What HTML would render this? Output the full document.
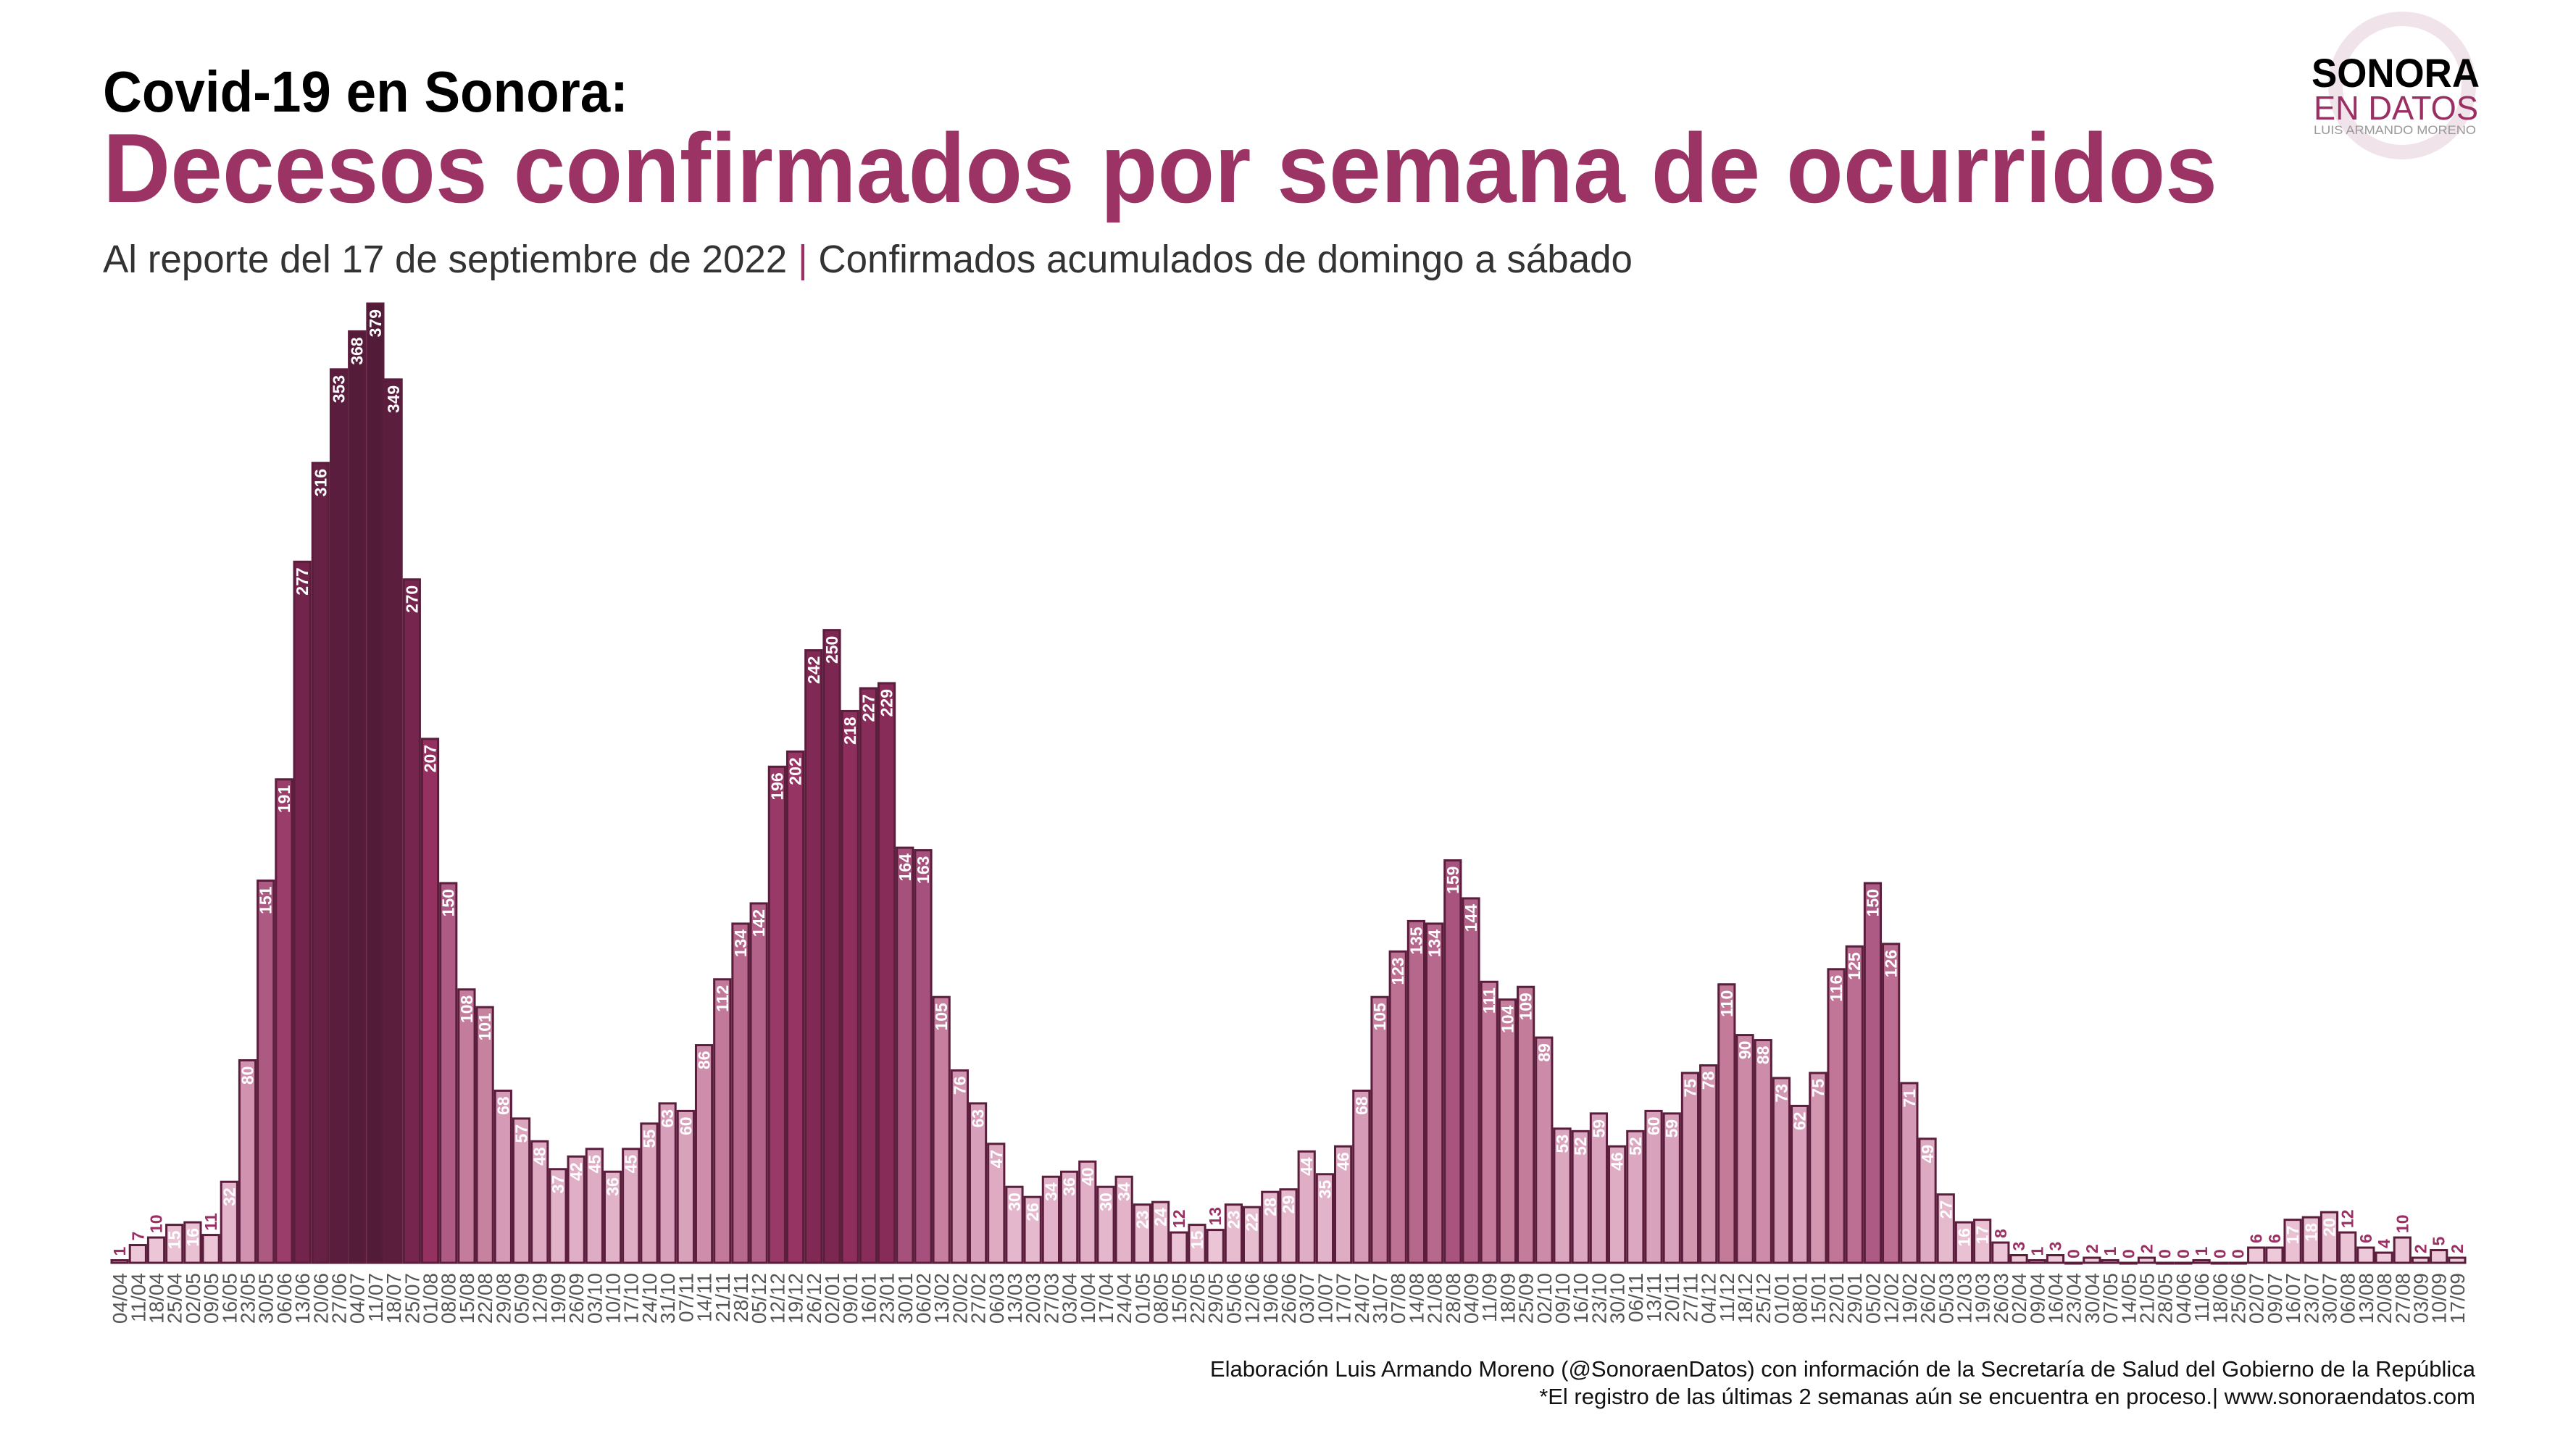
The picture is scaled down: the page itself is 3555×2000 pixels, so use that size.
<!DOCTYPE html>
<html><head><meta charset="utf-8"><style>
html,body{margin:0;padding:0;background:#fff;}
svg{display:block;}
</style></head><body>
<svg id="chart" width="3555" height="2000" viewBox="0 0 3555 2000" xmlns="http://www.w3.org/2000/svg" font-family="'Liberation Sans', sans-serif">
<rect width="3555" height="2000" fill="#fff"/>
<g>
<circle cx="3315" cy="118" r="92" fill="none" stroke="#f1e3ea" stroke-width="20"/>
<text x="3190" y="120" font-size="56" font-weight="bold" fill="#000" textLength="232" lengthAdjust="spacingAndGlyphs">SONORA</text>
<text x="3193" y="165" font-size="46" fill="#9b2f63" textLength="227" lengthAdjust="spacingAndGlyphs">EN DATOS</text>
<text x="3193" y="185" font-size="17" fill="#999" textLength="224" lengthAdjust="spacingAndGlyphs">LUIS ARMANDO MORENO</text>
</g>
<text x="142" y="154" font-size="80" font-weight="bold" fill="#000" textLength="725" lengthAdjust="spacingAndGlyphs">Covid-19  en Sonora:</text>
<text x="142" y="279" font-size="136" font-weight="bold" fill="#9b3365" textLength="2918" lengthAdjust="spacingAndGlyphs">Decesos confirmados por semana de ocurridos</text>
<text x="142" y="376" font-size="54" fill="#333" textLength="2111" lengthAdjust="spacingAndGlyphs">Al reporte del 17 de septiembre de 2022 <tspan fill="#9b2f63">|</tspan> Confirmados acumulados de domingo a sábado</text>
<g id="bars"></g>
<g id="xlabels"></g>
<text x="3416" y="1900" font-size="31" fill="#111" text-anchor="end">Elaboración Luis Armando Moreno (@SonoraenDatos) con información de la Secretaría de Salud del Gobierno de la República</text>
<text x="3416" y="1938" font-size="31" fill="#111" text-anchor="end">*El registro de las últimas 2 semanas aún se encuentra en proceso.| www.sonoraendatos.com</text>
</svg>
<script>
const weeks = ["04/04","11/04","18/04","25/04","02/05","09/05","16/05","23/05","30/05","06/06","13/06","20/06","27/06","04/07","11/07","18/07","25/07","01/08","08/08","15/08","22/08","29/08","05/09","12/09","19/09","26/09","03/10","10/10","17/10","24/10","31/10","07/11","14/11","21/11","28/11","05/12","12/12","19/12","26/12",
"02/01","09/01","16/01","23/01","30/01","06/02","13/02","20/02","27/02","06/03","13/03","20/03","27/03","03/04","10/04","17/04","24/04","01/05","08/05","15/05","22/05","29/05","05/06","12/06","19/06","26/06","03/07","10/07","17/07","24/07","31/07","07/08","14/08","21/08","28/08","04/09","11/09","18/09","25/09","02/10","09/10","16/10","23/10","30/10","06/11","13/11","20/11","27/11","04/12","11/12","18/12","25/12",
"01/01","08/01","15/01","22/01","29/01","05/02","12/02","19/02","26/02","05/03","12/03","19/03","26/03","02/04","09/04","16/04","23/04","30/04","07/05","14/05","21/05","28/05","04/06","11/06","18/06","25/06","02/07","09/07","16/07","23/07","30/07","06/08","13/08","20/08","27/08","03/09","10/09","17/09"];
const deaths = [1,7,10,15,16,11,32,80,151,191,277,316,353,368,379,349,270,207,150,108,101,68,57,48,37,42,45,36,45,55,63,60,86,112,134,142,196,202,242,
250,218,227,229,164,163,105,76,63,47,30,26,34,36,40,30,34,23,24,12,15,13,23,22,28,29,44,35,46,68,105,123,135,134,159,144,111,104,109,89,53,52,59,46,52,60,59,75,78,110,90,88,
73,62,75,116,125,150,126,71,49,27,16,17,8,3,1,3,0,2,1,0,2,0,0,1,0,0,6,6,17,18,20,12,6,4,10,2,5,2];

const NS="http://www.w3.org/2000/svg";
const x0=154, x1=3405, base=1743, yTop=419, maxV=379;
const pitch=(x1-x0)/weeks.length, bw=pitch-3;
const xs=i=>x0+i*pitch;
const ys=v=>base-(v/maxV)*(base-yTop);
const stops=[[0,[240,205,220]],[0.15,[218,164,189]],[0.3,[194,120,152]],[0.42,[168,84,127]],[0.55,[147,48,95]],[0.66,[123,39,82]],[1,[82,27,56]]];
function col(v){const t=v/maxV;for(let k=1;k<stops.length;k++){if(t<=stops[k][0]){const a=stops[k-1],b=stops[k],f=(t-a[0])/(b[0]-a[0]);return 'rgb('+a[1].map((c,j)=>Math.round(c+(b[1][j]-c)*f)).join(',')+')';}}return 'rgb(82,27,56)';}
const gb=document.getElementById('bars'), gl=document.getElementById('xlabels');
deaths.forEach((v,i)=>{
  const x=xs(i), y=ys(v);
  const r=document.createElementNS(NS,'rect');
  r.setAttribute('x',x);r.setAttribute('y',y);r.setAttribute('width',bw);r.setAttribute('height',Math.max(base-y,1));
  r.setAttribute('fill',col(v));r.setAttribute('stroke','#5a1d3c');r.setAttribute('stroke-width','3');
  
  
  gb.appendChild(r);
  const t=document.createElementNS(NS,'text');
  const cx=x+bw/2+8;
  const inside=v>=15;
  const ty=inside?y+8:y-6;
  t.setAttribute('transform','translate('+cx+','+ty+') rotate(-90)');
  t.setAttribute('text-anchor',inside?'end':'start');
  t.setAttribute('font-size','23');t.setAttribute('font-weight','bold');
  t.setAttribute('fill',inside?'#fff':'#9b2f63');
  t.textContent=v;
  
  
  gb.appendChild(t);
  const l=document.createElementNS(NS,'text');
  l.setAttribute('transform','translate('+(x+bw/2+10)+','+(base+14)+') rotate(-90)');
  l.setAttribute('text-anchor','end');l.setAttribute('font-size','28');l.setAttribute('fill','#555');
  l.textContent=weeks[i];
  
  
  gl.appendChild(l);
});
</script>
</body></html>
